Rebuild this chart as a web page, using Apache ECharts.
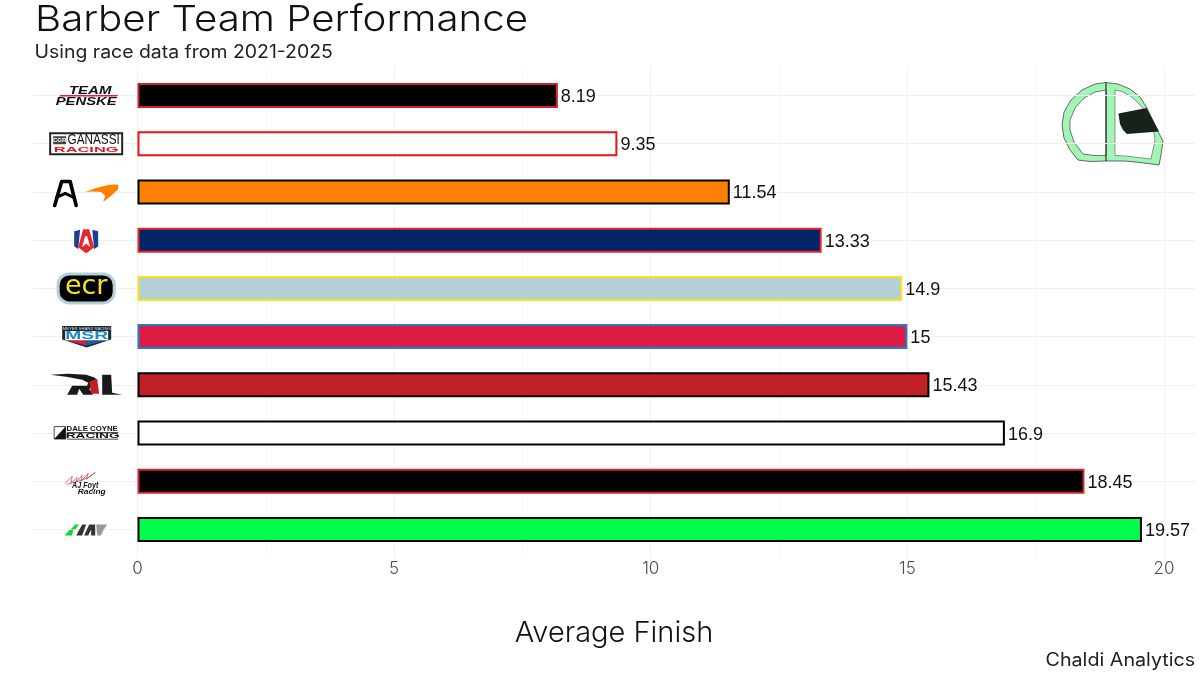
<!DOCTYPE html>
<html>
<head>
<meta charset="utf-8">
<title>Barber Team Performance</title>
<script src="https://cdn.jsdelivr.net/npm/echarts@6/dist/echarts.min.js"></script>
<style>
html, body { margin: 0; padding: 0; background: #fff; }
#chart { width: 1200px; height: 675px; }
</style>
</head>
<body>
<div id="chart"></div>
<script>
var teams = ['Team Penske', 'Chip Ganassi Racing', 'Arrow McLaren', 'Andretti', 'Ed Carpenter Racing',
    'Meyer Shank Racing', 'Rahal Letterman Lanigan', 'Dale Coyne Racing', 'AJ Foyt Racing', 'Juncos Hollinger'];
var avgFinish = [8.19, 9.35, 11.54, 13.33, 14.9, 15, 15.43, 16.9, 18.45, 19.57];
var barFill = ['#000000', '#ffffff', '#ff8000', '#032466', '#b5cfd6', '#dc1c44', '#c12026', '#ffffff', '#000000', '#00ff4c'];
var barBorder = ['#d3202f', '#ee1111', '#000000', '#e8262b', '#ffe01b', '#1e80c8', '#000000', '#000000', '#d22630', '#000000'];
var majorTicks = [0, 5, 10, 15, 20];
var minorTicks = [2.5, 7.5, 12.5, 17.5];

var SANS = '"Liberation Sans", Arial, sans-serif';
var WORK = 'Inter, "Open Sans", sans-serif';
var X_MIN = -2.036, X_MAX = 20.604;

function txt(x, y, str, size, color, o) {
    o = o || {};
    return {
        type: 'text', x: x, y: y, scaleX: o.sx || 1, scaleY: o.sy || 1,
        style: {
            x: 0, y: 0, text: str, fontFamily: o.font || SANS, fontSize: size, fontWeight: o.weight || 'normal',
            fontStyle: o.style || 'normal', fill: color, align: o.align || 'center', verticalAlign: 'middle'
        }
    };
}
function poly(points, fill) {
    return { type: 'polygon', shape: { points: points }, style: { fill: fill } };
}
function box(x, y, w, h, fill, stroke, lw, r) {
    return {
        type: 'rect', shape: { x: x, y: y, width: w, height: h, r: r || 0 },
        style: { fill: fill, stroke: stroke || null, lineWidth: lw || 0 }
    };
}
function line(points, color, lw) {
    return { type: 'polyline', shape: { points: points }, style: { fill: null, stroke: color, lineWidth: lw, lineCap: 'round', lineJoin: 'round' } };
}

// logo pieces, drawn around the logo anchor of each row
function logoParts(name) {
    switch (name) {
    case 'Team Penske':
        return [
            txt(4, -4.5, 'TEAM', 11, '#111', { weight: 'bold', style: 'italic', sx: 1.36 }),
            poly([[-26, -0.6], [32, -0.6], [31, 0.9], [-27, 0.9]], '#e8202a'),
            txt(0, 6, 'PENSKE', 11, '#111', { weight: 'bold', style: 'italic', sx: 1.35 })
        ];
    case 'Chip Ganassi Racing':
        return [
            box(-36, -10.5, 72, 21, '#fff', '#222', 2),
            box(-33, -7.5, 13, 8, '#444'),
            txt(-26.5, -3.5, 'CGR', 6, '#fff', { weight: 'bold' }),
            txt(7.5, -3.3, 'GANASSI', 14, '#111', { sx: 0.84 }),
            txt(0, 6, 'RACING', 8, '#e8111a', { weight: 'bold', sx: 2.05 })
        ];
    case 'Arrow McLaren':
        return [
            line([[-31.5, 13.5], [-24.5, -10.5], [-16, -10.5], [-10, 13.5]], '#000', 3.6),
            line([[-29.5, 5.5], [-21, 1.5], [-12.5, 5.5]], '#000', 3),
            poly([[-1, 0], [10, -4], [22, -7], [32, -7.5], [32, -3], [26, 3], [17, 10], [19, 4], [15, 0], [6, -0.5]], '#ff8000')
        ];
    case 'Andretti':
        return [
            poly([[-12, -9], [-6, -10.5], [-6, 4], [-8, 9], [-12, 6]], '#1c3f94'),
            poly([[12, -9], [6, -10.5], [6, 4], [8, 9], [12, 6]], '#1c3f94'),
            poly([[-6, -10.5], [6, -10.5], [8, 9], [-8, 9]], '#ffffff'),
            poly([[-3, -11], [3, -11], [8, 7], [1, 12.5], [-1, 12.5], [-8, 7], [-4.2, 7], [0, 3.5], [4.2, 7], [1, -4], [-1, -4], [-4.2, 7], [-8, 7]], '#e8262b')
        ];
    case 'Ed Carpenter Racing':
        return [
            box(-28, -14.5, 56, 29, '#000', '#b5cfd6', 3, 11),
            txt(0, -1, 'ecr', 27, '#f5e416', { font: '"DejaVu Sans"' })
        ];
    case 'Meyer Shank Racing':
        return [
            poly([[-24, -10.5], [25, -10.5], [25, 3], [0.5, 11], [-24, 3]], '#1c2a3a'),
            txt(0.5, -8, 'MEYER SHANK RACING', 3.5, '#ddd', { sx: 1.2 }),
            box(-21, -5.5, 43, 9.5, '#ffffff'),
            txt(0.5, -0.5, 'MSR', 11, '#1e88c8', { weight: 'bold', sx: 1.75 }),
            poly([[-21, 4], [0, 4], [0, 9], [-20, 4]], '#dc1c44'),
            poly([[22, 4], [0, 4], [0, 9], [21, 4]], '#2458a8')
        ];
    case 'Rahal Letterman Lanigan':
        return [
            poly([[-36, -10], [-18, -11], [0, -10], [9, -7], [11, -3], [8, 2], [3, 4], [7, 10], [-3, 10], [-7, 4], [-9, 10], [-19, 10], [-14, 1],
                [1, 1], [2, -2], [-4, -5], [-20, -8]], '#1a1a1a'),
            poly([[3, -3], [11, -6], [13, 9], [5, 9]], '#c12026'),
            poly([[16, -10], [25, -10], [26, 8], [36, 10], [16, 10]], '#1a1a1a')
        ];
    case 'Dale Coyne Racing':
        return [
            box(-32, -6.5, 11.5, 12.5, '#fff', '#222', 0.8),
            poly([[-32, 6], [-20.5, -6.5], [-20.5, 6]], '#111'),
            txt(6, -3.6, 'DALE COYNE', 6.5, '#111', { weight: 'bold', sx: 1.2 }),
            box(-19, -0.8, 51, 1.1, '#111'),
            txt(6.5, 3.6, 'RACING', 6.5, '#111', { weight: 'bold', sx: 2.1 }),
            box(-19, 5.6, 51, 0.8, '#111')
        ];
    case 'AJ Foyt Racing':
        return [
            line([[-21, 2], [-14, -5], [-15, 2], [-9, -4], [-10, 1], [-4, -6], [-5, 0], [2, -8], [0, -2], [9, -9], [3, -4], [-8, 0], [-19, 3]], '#d8404c', 0.8),
            txt(-1, 4, 'AJ Foyt', 9, '#111', { weight: 'bold', style: 'italic', sx: 0.8 }),
            txt(5.5, 10.5, 'Racing', 8, '#111', { weight: 'bold', style: 'italic', sx: 1.05 })
        ];
    case 'Juncos Hollinger':
        return [
            poly([[-21.5, 6], [-17, 0.5], [-13, 0.5], [-14, 6]], '#18d23a'),
            poly([[-15.5, 0], [-11, -5], [-7, -5], [-11, 0]], '#18d23a'),
            poly([[-10, 6], [-4, -5], [0, -5], [-4, 6]], '#333'),
            poly([[-2, 6], [3, -5], [9, -5], [9, 6], [5, 6], [5, 0], [2, 6]], '#333'),
            poly([[10, -5], [21, -5], [17, 1], [15, 6], [11, 6]], '#999')
        ];
    }
    return [];
}

function renderLogo(params, api) {
    var pos = api.coord([api.value(0), api.value(1)]);
    return { type: 'group', x: pos[0], y: pos[1], children: logoParts(teams[api.value(1)]) };
}

// helmet outline pieces, in page pixels
var helmetShell = [[1106, 82.5], [1095, 84], [1082, 90], [1071, 100], [1064, 112], [1062, 125], [1064, 138], [1070, 150], [1078, 160],
    [1090, 161.5], [1106, 161], [1125, 161], [1140, 162.5], [1159, 165], [1161, 155], [1163, 141], [1158, 131.5], [1147, 108],
    [1140, 97], [1130, 89], [1118, 84]];
var helmetLeft = [[1106, 90], [1095, 92], [1084, 98], [1075, 108], [1070, 120], [1070, 130], [1074, 142], [1083, 154], [1094, 155.5], [1106, 155.5]];
var helmetRight = [[1115, 90], [1122, 91.5], [1132, 97], [1140, 105], [1146, 112], [1154, 133], [1155, 140], [1151, 159], [1138, 157.5], [1125, 156], [1115, 155.5]];
var helmetVisor = [[1118.5, 113.5], [1146.5, 108], [1159, 131.5], [1127, 134], [1123, 130], [1120, 124]];

var chart = echarts.init(document.getElementById('chart'));
chart.setOption({
    backgroundColor: '#ffffff',
    animation: false,
    // outer grid carries the vertical lines and labels, inner one the bars (panel runs 0.6 of a band past the first and last bar)
    grid: [
        { left: 33, right: 5, top: 66.6, bottom: 116.6 },
        { left: 33, right: 5, top: 71.4, bottom: 121.4 }
    ],
    xAxis: [
        {
            type: 'value', gridIndex: 0, min: X_MIN, max: X_MAX,
            name: 'Average Finish', nameLocation: 'middle', nameGap: 60,
            nameTextStyle: { fontFamily: WORK, fontSize: 29, fontWeight: 300, color: '#111' },
            axisLine: { show: false },
            axisTick: { show: false, customValues: majorTicks },
            axisLabel: { customValues: majorTicks, margin: 2, fontFamily: WORK, fontSize: 17, fontWeight: 300, color: '#4d4d4d', showMinLabel: true, showMaxLabel: true },
            splitLine: { show: true, lineStyle: { color: '#f0f0f0', width: 1 } }
        },
        {
            type: 'value', gridIndex: 0, min: X_MIN, max: X_MAX,
            axisLine: { show: false },
            axisTick: { show: false, customValues: minorTicks },
            axisLabel: { show: false },
            splitLine: { show: true, lineStyle: { color: '#f6f6f6', width: 1 } }
        },
        {
            type: 'value', gridIndex: 1, min: X_MIN, max: X_MAX,
            axisLine: { show: false }, axisTick: { show: false }, axisLabel: { show: false }, splitLine: { show: false }
        }
    ],
    yAxis: [
        { type: 'value', gridIndex: 0, show: false, splitLine: { show: false } },
        {
            type: 'category', gridIndex: 1, inverse: true, data: teams,
            axisLine: { show: false },
            axisTick: { show: false, alignWithLabel: true },
            axisLabel: { show: false },
            splitLine: { show: true, alignWithLabel: true, lineStyle: { color: '#f0f0f0', width: 1 } }
        }
    ],
    series: [
        {
            type: 'bar', name: 'Average Finish', xAxisIndex: 2, yAxisIndex: 1, barWidth: 25,
            data: avgFinish.map(function (v, i) {
                return { value: v, itemStyle: { color: barFill[i], borderColor: barBorder[i], borderWidth: 2 } };
            }),
            label: { show: true, position: 'right', distance: 3, offset: [0, 1.5], fontFamily: SANS, fontSize: 18, color: '#111' }
        },
        {
            type: 'custom', name: 'logos', silent: true, xAxisIndex: 2, yAxisIndex: 1,
            data: teams.map(function (t, i) { return [-1, i]; }),
            encode: { x: 0, y: 1 },
            renderItem: renderLogo
        }
    ],
    graphic: [
        txt(35, 20, 'Barber Team Performance', 36, '#111', { font: WORK, weight: 300, sx: 1.118, align: 'left' }),
        txt(34.5, 52.5, 'Using race data from 2021-2025', 18, '#222', { font: WORK, sx: 1.08, align: 'left' }),
        txt(1045.5, 661, 'Chaldi Analytics', 18, '#222', { font: WORK, sx: 1.095, align: 'left' }),
        { type: 'polygon', silent: true, shape: { points: helmetShell }, style: { fill: '#a3f5b6', stroke: '#444', lineWidth: 0.8 } },
        { type: 'polygon', silent: true, shape: { points: helmetLeft }, style: { fill: '#ffffff', stroke: '#555', lineWidth: 0.8 } },
        { type: 'polygon', silent: true, shape: { points: helmetRight }, style: { fill: '#ffffff', stroke: '#777', lineWidth: 0.8 } },
        { type: 'polygon', silent: true, shape: { points: helmetVisor }, style: { fill: '#16221a' } },
        { type: 'line', silent: true, shape: { x1: 1106, y1: 82.5, x2: 1106, y2: 161 }, style: { stroke: '#111', lineWidth: 1 } }
    ]
});
</script>
</body>
</html>
